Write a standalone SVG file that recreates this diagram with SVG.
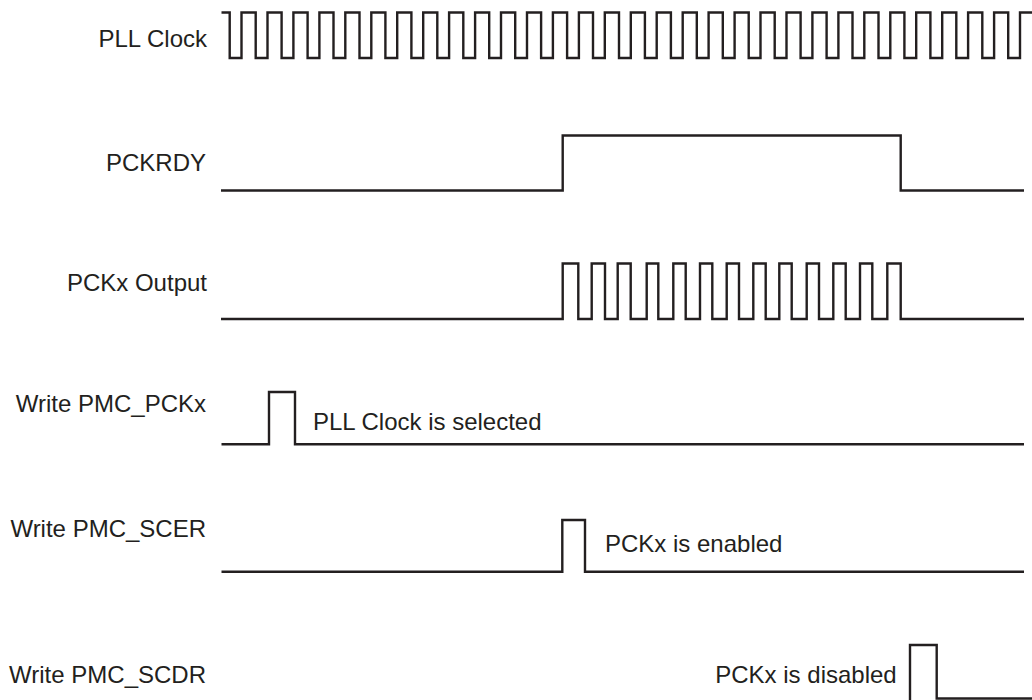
<svg xmlns="http://www.w3.org/2000/svg" width="1032" height="700" viewBox="0 0 1032 700">
<style>
.bg{fill:#ffffff}
.lbl{font-family:"Liberation Sans",Arial,sans-serif;font-size:24px;fill:#231f20}
.end{text-anchor:end}
.wave{fill:none;stroke:#231f20;stroke-width:2.4;stroke-linejoin:miter;stroke-linecap:butt}
</style>
<rect class="bg" x="0" y="0" width="1032" height="700"/>
<g id="pll-clock">
<text class="lbl end" x="207" y="46.5">PLL Clock</text>
</g>
<g id="pckrdy">
<text class="lbl end" x="206" y="171">PCKRDY</text>
</g>
<g id="pckx-output">
<text class="lbl end" x="207" y="291">PCKx Output</text>
</g>
<g id="write-pmc-pckx">
<text class="lbl end" x="206" y="412">Write PMC_PCKx</text>
<text class="lbl" x="313" y="429.5">PLL Clock is selected</text>
</g>
<g id="write-pmc-scer">
<text class="lbl end" x="206" y="536.7">Write PMC_SCER</text>
<text class="lbl" x="605" y="551.7">PCKx is enabled</text>
</g>
<g id="write-pmc-scdr">
<text class="lbl end" x="206" y="682.5">Write PMC_SCDR</text>
<text class="lbl end" x="896.7" y="682.7">PCKx is disabled</text>
</g>
<g id="waveforms">
<path class="wave" d="M221.5,12.5 H229.7 V58 H241.5 V12.5 H255.7 V58 H267.5 V12.5 H281.6 V58 H293.4 V12.5 H307.6 V58 H319.4 V12.5 H333.5 V58 H345.3 V12.5 H359.5 V58 H371.3 V12.5 H385.4 V58 H397.2 V12.5 H411.4 V58 H423.2 V12.5 H437.3 V58 H449.1 V12.5 H463.3 V58 H475.1 V12.5 H489.2 V58 H501 V12.5 H515.2 V58 H527 V12.5 H541.1 V58 H552.9 V12.5 H567.1 V58 H578.9 V12.5 H593 V58 H604.8 V12.5 H619 V58 H630.8 V12.5 H644.9 V58 H656.7 V12.5 H670.9 V58 H682.7 V12.5 H696.8 V58 H708.6 V12.5 H722.8 V58 H734.6 V12.5 H748.7 V58 H760.5 V12.5 H774.7 V58 H786.5 V12.5 H800.6 V58 H812.4 V12.5 H826.6 V58 H838.4 V12.5 H852.5 V58 H864.3 V12.5 H878.5 V58 H890.3 V12.5 H904.4 V58 H916.2 V12.5 H930.4 V58 H942.2 V12.5 H956.3 V58 H968.1 V12.5 H982.3 V58 H994.1 V12.5 H1008.2 V58 H1020 V12.5 H1032"/>
<path class="wave" d="M221,190.5 H562.7 V135.5 H900.7 V190.5 H1024"/>
<path class="wave" d="M221,319 H562.7 V263.5 H578.3 V319 H591.7 V263.5 H605 V319 H617.7 V263.5 H630.7 V319 H646.7 V263.5 H658.3 V319 H673.3 V263.5 H685.7 V319 H700 V263.5 H712.3 V319 H726.7 V263.5 H739 V319 H753.3 V263.5 H765.7 V319 H779.3 V263.5 H791.7 V319 H806.7 V263.5 H819 V319 H833.3 V263.5 H845.7 V319 H860 V263.5 H872.3 V319 H887.3 V263.5 H900.7 V319 H1024"/>
<path class="wave" d="M221.5,444.3 H269 V392 H295 V444.3 H1024"/>
<path class="wave" d="M221.5,571.7 H562.3 V520 H585 V571.7 H1024"/>
<path class="wave" d="M910,702 V645 H936.7 V698.5 H1032"/>
</g>
</svg>
